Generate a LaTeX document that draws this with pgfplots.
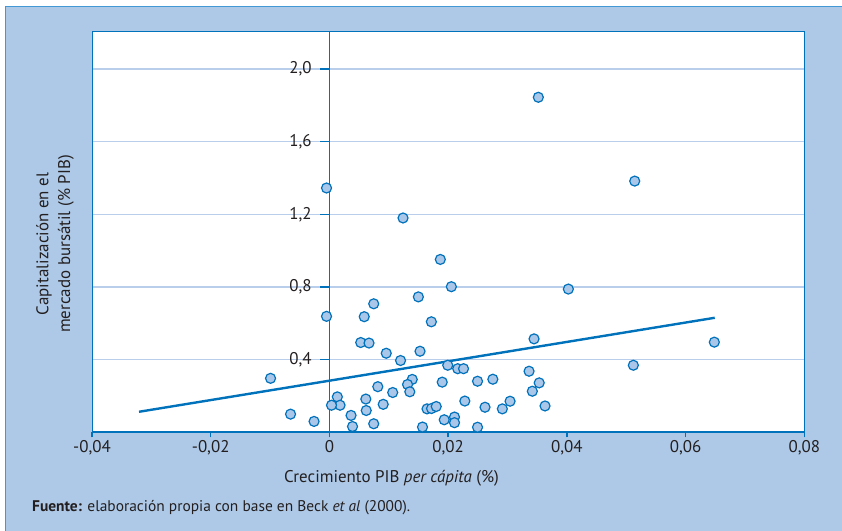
\documentclass[border=0pt]{standalone}
\usepackage{fontspec}
\setmainfont{PT Sans}
\usepackage{pgfplots}
\pgfplotsset{compat=1.18}
\definecolor{bgblue}{RGB}{174,201,231}
\definecolor{frameblue}{RGB}{66,152,212}
\definecolor{axisblue}{RGB}{0,114,188}
\definecolor{gridblue}{RGB}{184,206,234}
\definecolor{markfill}{RGB}{170,198,232}
\definecolor{textgray}{RGB}{35,31,32}
\pgfplotstableread{
x y
0.03519 1.844
-0.00049 1.345
0.05143 1.383
0.0124 1.180
0.01868 0.952
0.02054 0.802
0.04025 0.789
0.01498 0.746
0.00746 0.708
-0.00049 0.639
0.00586 0.637
0.01717 0.609
0.03447 0.515
0.00527 0.495
0.00667 0.492
0.06484 0.497
0.00957 0.436
0.01526 0.447
0.01198 0.396
0.0512 0.370
0.01993 0.370
0.02161 0.351
0.02259 0.351
-0.00992 0.298
0.03363 0.337
0.01395 0.292
0.01316 0.264
0.01354 0.224
0.02495 0.282
0.02753 0.293
0.03534 0.273
0.019 0.277
0.00815 0.252
0.01066 0.220
0.00133 0.196
0.03418 0.227
0.00906 0.155
0.00179 0.150
0.00035 0.150
0.00613 0.184
0.02281 0.173
0.03043 0.172
0.01644 0.130
0.0172 0.132
0.01799 0.143
0.02621 0.139
0.02913 0.130
0.03632 0.146
0.0062 0.121
0.00364 0.094
-0.00655 0.101
0.02107 0.085
0.01934 0.070
-0.00259 0.061
0.00746 0.048
0.00389 0.033
0.01568 0.030
0.02107 0.054
0.02495 0.029
}\pointsdata
\begin{document}
\begin{tikzpicture}
\useasboundingbox (0,0) rectangle (842bp,531bp);
\fill[bgblue] (5.3bp,0) rectangle (842bp,524.3bp);
\draw[frameblue, line width=1.6bp] (5.3bp,0) -- (5.3bp,524.3bp) -- (842bp,524.3bp);
\begin{axis}[
  at={(92bp,98.5bp)}, anchor=south west, scale only axis,
  width=712.3bp, height=401.2bp,
  xmin=-0.04, xmax=0.08, ymin=0, ymax=2.207,
  axis x line=bottom, axis y line=center,
  hide obscured x ticks=false, hide obscured y ticks=false,
  scaled x ticks=false, scaled y ticks=false,
  x axis line style={-, line width=2bp, draw=axisblue},
  y axis line style={-, line width=1.4bp, draw=axisblue},
  xtick={-0.04,-0.02,0,0.02,0.04,0.06,0.08},
  xticklabels={{-0,04},{-0,02},{0},{0,02},{0,04},{0,06},{0,08}},
  ytick={0.4,0.8,1.2,1.6,2.0},
  yticklabels={{0,4},{0,8},{1,2},{1,6},{2,0}},
  tick align=outside,
  xtick style={draw=axisblue, line width=1.4bp, /pgfplots/major tick length=5bp},
  ytick style={draw=axisblue, line width=1.4bp, /pgfplots/major tick length=9bp},
  yticklabel style={xshift=-10bp},
  ymajorgrids, grid style={gridblue, line width=1.4bp},
  axis background/.style={fill=white},
  tick label style={font=\fontsize{17}{19}\selectfont, text=textgray},
  clip=false,
]
\addplot[axisblue, line width=2.4bp] coordinates {(-0.03208,0.114) (0.06491,0.631)};
\addplot[only marks, mark=*, mark size=5bp, mark options={fill=markfill, draw=axisblue, line width=1.2bp}] table[x=x,y=y] {\pointsdata};
\draw[axisblue, line width=1bp] (rel axis cs:0,0) rectangle (rel axis cs:1,1);
\end{axis}
\node[rotate=90, align=center, text=textgray, font=\fontsize{17}{22}\selectfont] at (55bp,287bp) {Capitalización en el\\mercado bursátil (\%~PIB)};
\node[text=textgray, font=\fontsize{17}{19}\selectfont] at (391.5bp,53bp) {Crecimiento PIB \textit{per cápita} (\%)};
\node[anchor=west, text=textgray, font=\fontsize{15.5}{18}\selectfont, inner sep=0pt] at (32bp,23bp) {\textbf{Fuente:} elaboración propia con base en Beck \textit{et al} (2000).};
\end{tikzpicture}
\end{document}
